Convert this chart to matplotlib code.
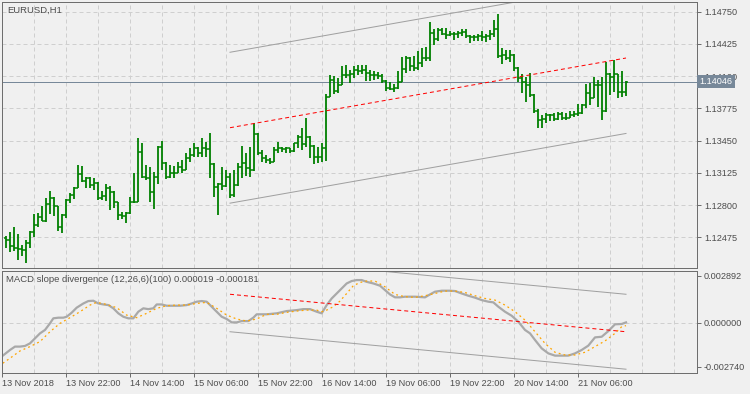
import numpy as np
import matplotlib.pyplot as plt
from matplotlib.transforms import blended_transform_factory

plt.rcParams['font.family'] = ['Liberation Sans', 'DejaVu Sans']
plt.rcParams['font.size'] = 6.6

# EURUSD H1 bars (bar 0 = 13 Nov 07:00, last = 21 Nov 18:00)
bar_open = [
    1.12465, 1.12448, 1.12390, 1.12370, 1.12354, 1.12347, 1.12414, 1.12531, 1.12599, 1.12680,
    1.12639, 1.12808, 1.12874, 1.12790, 1.12576, 1.12700, 1.12851, 1.12901, 1.12972, 1.13110,
    1.13043, 1.13076, 1.13003, 1.13023, 1.12868, 1.12894, 1.12975, 1.12935, 1.12828, 1.12700,
    1.12690, 1.12717, 1.12828, 1.12834, 1.13332, 1.13086, 1.13076, 1.12929, 1.13086, 1.13390,
    1.13224, 1.13086, 1.13120, 1.13127, 1.13187, 1.13154, 1.13272, 1.13305, 1.13372, 1.13328,
    1.13372, 1.13362, 1.13211, 1.12985, 1.13012, 1.12992, 1.13086, 1.12901, 1.13003, 1.13187,
    1.13221, 1.13171, 1.13154, 1.13514, 1.13322, 1.13272, 1.13254, 1.13237, 1.13355, 1.13372,
    1.13362, 1.13372, 1.13345, 1.13423, 1.13490, 1.13416, 1.13490, 1.13396, 1.13288, 1.13288,
    1.13375, 1.13887, 1.14064, 1.13953, 1.14014, 1.14115, 1.14108, 1.14122, 1.14165, 1.14149,
    1.14165, 1.14132, 1.14115, 1.14110, 1.14098, 1.14054, 1.13981, 1.13973, 1.13981, 1.14041,
    1.14175, 1.14283, 1.14199, 1.14182, 1.14233, 1.14283, 1.14283, 1.14535, 1.14478, 1.14568,
    1.14525, 1.14512, 1.14525, 1.14525, 1.14535, 1.14545, 1.14502, 1.14492, 1.14492, 1.14502,
    1.14492, 1.14508, 1.14522, 1.14576, 1.14306, 1.14313, 1.14280, 1.14313, 1.14179, 1.14084,
    1.14038, 1.14011, 1.13910, 1.13749, 1.13658, 1.13668, 1.13708, 1.13708, 1.13668, 1.13715,
    1.13675, 1.13675, 1.13708, 1.13715, 1.13725, 1.13809, 1.13927, 1.13877, 1.14011, 1.14011,
    1.13749, 1.14119, 1.14095, 1.14119, 1.13943, 1.13937,
]
bar_high = [
    1.12488, 1.12525, 1.12578, 1.12511, 1.12400, 1.12445, 1.12538, 1.12707, 1.12717, 1.12790,
    1.12874, 1.12942, 1.12880, 1.12795, 1.12707, 1.12861, 1.12918, 1.12985, 1.13204, 1.13197,
    1.13086, 1.13086, 1.13070, 1.13030, 1.12942, 1.13009, 1.12995, 1.12940, 1.12835, 1.12733,
    1.12727, 1.12884, 1.13120, 1.13473, 1.13423, 1.13204, 1.13181, 1.13130, 1.13399, 1.13446,
    1.13235, 1.13204, 1.13194, 1.13237, 1.13254, 1.13322, 1.13372, 1.13429, 1.13389, 1.13473,
    1.13436, 1.13530, 1.13220, 1.13022, 1.13187, 1.13154, 1.13120, 1.13154, 1.13221, 1.13396,
    1.13322, 1.13383, 1.13625, 1.13525, 1.13355, 1.13305, 1.13272, 1.13383, 1.13439, 1.13389,
    1.13383, 1.13378, 1.13429, 1.13507, 1.13574, 1.13681, 1.13500, 1.13406, 1.13389, 1.13423,
    1.13920, 1.14115, 1.14098, 1.14081, 1.14199, 1.14209, 1.14165, 1.14199, 1.14216, 1.14209,
    1.14216, 1.14165, 1.14149, 1.14142, 1.14122, 1.14064, 1.14041, 1.14021, 1.14149, 1.14290,
    1.14300, 1.14290, 1.14300, 1.14357, 1.14384, 1.14391, 1.14646, 1.14579, 1.14586, 1.14586,
    1.14586, 1.14552, 1.14545, 1.14552, 1.14579, 1.14579, 1.14518, 1.14518, 1.14525, 1.14558,
    1.14522, 1.14565, 1.14666, 1.14724, 1.14381, 1.14364, 1.14364, 1.14320, 1.14195, 1.14119,
    1.14095, 1.14129, 1.13917, 1.13769, 1.13708, 1.13725, 1.13715, 1.13725, 1.13735, 1.13735,
    1.13725, 1.13749, 1.13749, 1.13816, 1.13816, 1.14018, 1.14028, 1.14095, 1.14061, 1.14095,
    1.14240, 1.14129, 1.14263, 1.14119, 1.14152, 1.14051,
]
bar_low = [
    1.12370, 1.12330, 1.12337, 1.12249, 1.12286, 1.12213, 1.12364, 1.12475, 1.12582, 1.12639,
    1.12632, 1.12707, 1.12690, 1.12538, 1.12521, 1.12672, 1.12818, 1.12858, 1.12972, 1.13030,
    1.12969, 1.12969, 1.12952, 1.12851, 1.12851, 1.12841, 1.12750, 1.12767, 1.12649, 1.12656,
    1.12622, 1.12707, 1.12820, 1.12830, 1.13076, 1.13053, 1.12834, 1.12760, 1.13009, 1.13154,
    1.13060, 1.13070, 1.13076, 1.13127, 1.13127, 1.13150, 1.13237, 1.13288, 1.13282, 1.13288,
    1.13282, 1.13070, 1.12884, 1.12700, 1.12952, 1.12985, 1.12868, 1.12884, 1.12995, 1.13070,
    1.13093, 1.13086, 1.13145, 1.13305, 1.13237, 1.13221, 1.13214, 1.13230, 1.13328, 1.13338,
    1.13328, 1.13322, 1.13338, 1.13372, 1.13355, 1.13389, 1.13272, 1.13214, 1.13221, 1.13237,
    1.13241, 1.13887, 1.13920, 1.13930, 1.14014, 1.14081, 1.14031, 1.14081, 1.14115, 1.14122,
    1.14054, 1.14054, 1.14064, 1.14074, 1.14031, 1.13947, 1.13963, 1.13940, 1.13975, 1.14041,
    1.14132, 1.14149, 1.14155, 1.14165, 1.14189, 1.14256, 1.14256, 1.14417, 1.14451, 1.14512,
    1.14478, 1.14502, 1.14468, 1.14485, 1.14502, 1.14485, 1.14434, 1.14451, 1.14451, 1.14451,
    1.14447, 1.14465, 1.14498, 1.14286, 1.14220, 1.14263, 1.14246, 1.14152, 1.14044, 1.13927,
    1.13842, 1.13893, 1.13725, 1.13574, 1.13580, 1.13625, 1.13648, 1.13648, 1.13658, 1.13658,
    1.13658, 1.13675, 1.13691, 1.13701, 1.13720, 1.13776, 1.13809, 1.13877, 1.13792, 1.13658,
    1.13742, 1.13910, 1.13943, 1.13877, 1.13893, 1.13903,
]
bar_close = [
    1.12448, 1.12390, 1.12370, 1.12354, 1.12347, 1.12414, 1.12531, 1.12599, 1.12680, 1.12639,
    1.12808, 1.12874, 1.12790, 1.12576, 1.12700, 1.12851, 1.12901, 1.12972, 1.13110, 1.13043,
    1.13076, 1.13003, 1.13023, 1.12868, 1.12894, 1.12975, 1.12935, 1.12828, 1.12700, 1.12690,
    1.12717, 1.12828, 1.12834, 1.13332, 1.13086, 1.13076, 1.12929, 1.13086, 1.13390, 1.13224,
    1.13086, 1.13120, 1.13127, 1.13187, 1.13154, 1.13272, 1.13305, 1.13372, 1.13328, 1.13372,
    1.13362, 1.13211, 1.12985, 1.13012, 1.12992, 1.13086, 1.12901, 1.13003, 1.13187, 1.13221,
    1.13171, 1.13154, 1.13514, 1.13322, 1.13272, 1.13254, 1.13237, 1.13355, 1.13372, 1.13362,
    1.13372, 1.13345, 1.13423, 1.13490, 1.13416, 1.13490, 1.13396, 1.13288, 1.13288, 1.13375,
    1.13887, 1.14064, 1.13953, 1.14014, 1.14115, 1.14108, 1.14122, 1.14165, 1.14149, 1.14165,
    1.14132, 1.14115, 1.14110, 1.14098, 1.14054, 1.13981, 1.13973, 1.13981, 1.14041, 1.14175,
    1.14283, 1.14199, 1.14182, 1.14233, 1.14283, 1.14283, 1.14535, 1.14478, 1.14568, 1.14525,
    1.14512, 1.14525, 1.14525, 1.14535, 1.14545, 1.14502, 1.14492, 1.14492, 1.14502, 1.14492,
    1.14508, 1.14522, 1.14576, 1.14306, 1.14313, 1.14280, 1.14313, 1.14179, 1.14084, 1.14038,
    1.14011, 1.13910, 1.13749, 1.13658, 1.13668, 1.13708, 1.13708, 1.13668, 1.13715, 1.13675,
    1.13675, 1.13708, 1.13715, 1.13725, 1.13809, 1.13927, 1.13877, 1.14011, 1.14011, 1.13749,
    1.14119, 1.14095, 1.14119, 1.13943, 1.13937, 1.14046,
]
current_price = 1.14046

# regression channel on price (start bar, end bar)
chan_bars = [56, 155]
price_mid = [1.13580, 1.14283]
price_upper = [1.14341, 1.15044]
price_lower = [1.12819, 1.13522]

# MACD(12,26,6) line and signal, read at bar positions
macd_pos = [-0.8, 1.0, 2.25, 3.5, 4.75, 6.0, 7.25, 8.5, 9.75, 11.0, 11.83, 13.08, 14.33, 15.17,
            16.42, 17.67, 19.33, 20.58, 21.83, 23.08, 24.33, 25.58, 26.83, 28.08, 29.33, 30.58,
            31.83, 33.08, 34.33, 35.58, 36.83, 37.67, 38.92, 40.17, 41.83, 43.5, 45.17, 46.42,
            47.67, 48.92, 50.17, 51.42, 52.67, 53.92, 55.17, 56.42, 57.67, 58.92, 60.58, 61.83,
            62.67, 63.92, 65.17, 67.67, 70.17, 72.67, 74.33, 76.0, 77.67, 78.92, 80.17, 81.42,
            82.67, 83.92, 85.17, 86.42, 87.67, 88.92, 90.17, 91.83, 93.5, 94.75, 96.0, 97.25,
            98.5, 99.75, 102.25, 104.75, 106.0, 107.25, 108.92, 111.0, 112.25, 113.92, 115.58,
            117.25, 118.92, 120.58, 121.83, 123.08, 124.75, 126.42, 128.08, 129.75, 131.0,
            132.25, 133.92, 135.58, 137.25, 138.92, 140.58, 142.25, 143.92, 145.58, 147.25,
            148.92, 150.58, 152.25, 153.92, 155.0]
macd_val = [-0.00204, -0.00169, -0.00148, -0.00148, -0.00144, -0.00128, -0.00097, -0.00066,
            -0.00045, -0.00004, 0.00027, 0.00031, 0.00031, 0.00037, 0.00062, 0.00093, 0.00119,
            0.00134, 0.00136, 0.00119, 0.00113, 0.00109, 0.00089, 0.00058, 0.00037, 0.00027,
            0.00027, 0.00068, 0.00089, 0.00084, 0.00089, 0.00113, 0.00113, 0.00105, 0.00105,
            0.00105, 0.00109, 0.00119, 0.00130, 0.00134, 0.00130, 0.00099, 0.00068, 0.00037,
            0.00023, 0.00002, 0.00002, 0.00010, 0.00010, 0.00031, 0.00052, 0.00052, 0.00052,
            0.00058, 0.00072, 0.00078, 0.00084, 0.00084, 0.00068, 0.00058, 0.00109, 0.00150,
            0.00181, 0.00212, 0.00243, 0.00258, 0.00264, 0.00264, 0.00253, 0.00243, 0.00229,
            0.00202, 0.00175, 0.00157, 0.00157, 0.00161, 0.00161, 0.00157, 0.00175, 0.00192,
            0.00198, 0.00198, 0.00196, 0.00181, 0.00167, 0.00155, 0.00140, 0.00130, 0.00126,
            0.00099, 0.00068, 0.00043, 0.00006, -0.00045, -0.00066, -0.00107, -0.00159,
            -0.00190, -0.00204, -0.00204, -0.00204, -0.00190, -0.00169, -0.00142, -0.00091,
            -0.00087, -0.00052, -0.00010, -0.00008, 0.000019]
signal_pos = [-0.8, 1.0, 3.5, 6.0, 8.5, 11.0, 13.5, 16.0, 18.5, 21.0, 22.67, 25.17, 27.67, 30.17,
              32.67, 35.17, 37.67, 40.17, 42.67, 45.17, 47.67, 50.17, 52.67, 55.17, 57.67, 60.17,
              62.67, 65.17, 67.67, 70.17, 72.67, 75.17, 77.67, 78.92, 80.17, 81.83, 83.5, 85.17,
              86.83, 88.5, 90.17, 92.25, 94.75, 97.25, 99.75, 102.25, 104.75, 107.25, 109.75,
              112.25, 114.75, 117.25, 119.75, 122.25, 124.75, 127.25, 129.75, 132.25, 134.75,
              137.25, 139.75, 142.25, 144.75, 147.25, 149.75, 152.25, 153.92, 155.0]
signal_val = [-0.00251, -0.00220, -0.00175, -0.00148, -0.00117, -0.00056, -0.00004, 0.00031,
              0.00068, 0.00109, 0.00126, 0.00113, 0.00093, 0.00047, 0.00031, 0.00058, 0.00089,
              0.00105, 0.00109, 0.00109, 0.00119, 0.00126, 0.00089, 0.00047, 0.00023, 0.00010,
              0.00023, 0.00052, 0.00052, 0.00064, 0.00072, 0.00078, 0.00078, 0.00068, 0.00078,
              0.00099, 0.00134, 0.00181, 0.00229, 0.00249, 0.00258, 0.00258, 0.00222, 0.00175,
              0.00161, 0.00157, 0.00167, 0.00181, 0.00196, 0.00196, 0.00187, 0.00167, 0.00150,
              0.00140, 0.00109, 0.00068, 0.00016, -0.00056, -0.00128, -0.00183, -0.00200,
              -0.00200, -0.00183, -0.00148, -0.00113, -0.00066, -0.00025, -0.000181]

# slope channel on the MACD window
macd_mid = [0.00176, -0.00056]
macd_upper = [0.00408, 0.00176]
macd_lower = [-0.00056, -0.00288]

price_ticks = [1.12475, 1.12800, 1.13125, 1.13450, 1.13775, 1.14100, 1.14425, 1.14750]
macd_ticks = [-0.002740, 0.0, 0.002892]
time_labels = ['13 Nov 2018', '13 Nov 22:00', '14 Nov 14:00', '15 Nov 06:00', '15 Nov 22:00',
               '16 Nov 14:00', '19 Nov 06:00', '19 Nov 22:00', '20 Nov 14:00', '21 Nov 06:00']
time_label_bars = [-1, 15, 31, 47, 63, 79, 95, 111, 127, 143]

bg = '#F0F0F0'
frame = '#6E6E6E'
txt = '#4D4D4D'
grid_kw = dict(color='#CFCFCF', lw=0.72, ls=(0, (4, 3)))
px = 0.72  # one pixel in points

fig = plt.figure(figsize=(7.5, 3.94), dpi=100, facecolor=bg)
ax1 = fig.add_axes([2 / 750, 1 - 268 / 394, 695 / 750, 266 / 394], facecolor=bg)
ax2 = fig.add_axes([2 / 750, 1 - 373 / 394, 695 / 750, 102 / 394], facecolor=bg)

xs = np.arange(len(bar_close))
for ax in (ax1, ax2):
    ax.set_xlim(-1, 172.75)
    for s in ax.spines.values():
        s.set_color(frame)
        s.set_linewidth(px)
    ax.yaxis.tick_right()
    ax.tick_params(axis='y', direction='out', length=3, width=px, color=frame,
                   labelcolor=txt, labelsize=6.6, pad=2)
    ax.set_xticks(time_label_bars)
    ax.set_xticks(np.arange(-1, 172, 8), minor=True)
    ax.tick_params(axis='x', which='minor', length=0)
    ax.grid(True, axis='x', which='both', **grid_kw)
    ax.set_axisbelow(True)

# --- price panel ---
ax1.set_ylim(1.12165, 1.14848)
ax1.set_yticks(price_ticks)
ax1.set_yticklabels(['%.5f' % p for p in price_ticks])
ax1.grid(True, axis='y', **grid_kw)
ax1.tick_params(axis='x', which='major', length=0, labelbottom=False)

# OHLC bars: high-low stick, open tick left, close tick right
ax1.vlines(xs, bar_low, bar_high, color='#008000', lw=1.3)
ax1.hlines(bar_open, xs - 0.55, xs, color='#008000', lw=1.1)
ax1.hlines(bar_close, xs, xs + 0.55, color='#008000', lw=1.1)

ax1.plot(chan_bars, price_upper, color='#A0A0A0', lw=px)
ax1.plot(chan_bars, price_lower, color='#A0A0A0', lw=px)
ax1.plot(chan_bars, price_mid, color='#FF0000', lw=px, ls=(0, (4, 3)))

ax1.axhline(current_price, color='#778899', lw=px, zorder=1.5)
tr = blended_transform_factory(ax1.transAxes, ax1.transData)
ax1.text(1.004, current_price, '%.5f' % current_price, transform=tr, ha='left', va='center',
         color='white', fontsize=6.6, clip_on=False, zorder=10,
         bbox=dict(boxstyle='square,pad=0.25', fc='#778899', ec='none'))
ax1.text(0.0072, 0.986, 'EURUSD,H1', transform=ax1.transAxes, ha='left', va='top',
         color=txt, fontsize=6.8)

# --- MACD panel ---
ax2.set_ylim(-0.003115, 0.003201)
ax2.set_yticks(macd_ticks)
ax2.set_yticklabels(['%.6f' % v for v in macd_ticks])
ax2.axhline(0, zorder=0.5, **grid_kw)
ax2.set_xticklabels(time_labels, ha='left')
ax2.tick_params(axis='x', which='major', direction='out', length=3, width=px, color=frame,
                labelcolor=txt, labelsize=6.6, pad=1.5)

ax2.plot(macd_pos, macd_val, color='#A9A9A9', lw=1.6)
ax2.plot(signal_pos, signal_val, color='#FFA500', lw=0.9, ls=(0, (1.5, 2.5)))
ax2.plot(chan_bars, macd_upper, color='#A0A0A0', lw=px)
ax2.plot(chan_bars, macd_lower, color='#A0A0A0', lw=px)
ax2.plot(chan_bars, macd_mid, color='#FF0000', lw=px, ls=(0, (4, 3)))
ax2.text(0.006, 0.965, 'MACD slope divergence (12,26,6)(100) 0.000019 -0.000181',
         transform=ax2.transAxes, ha='left', va='top', color=txt, fontsize=6.8)

fig.savefig('out.png', dpi=100, facecolor=bg)
